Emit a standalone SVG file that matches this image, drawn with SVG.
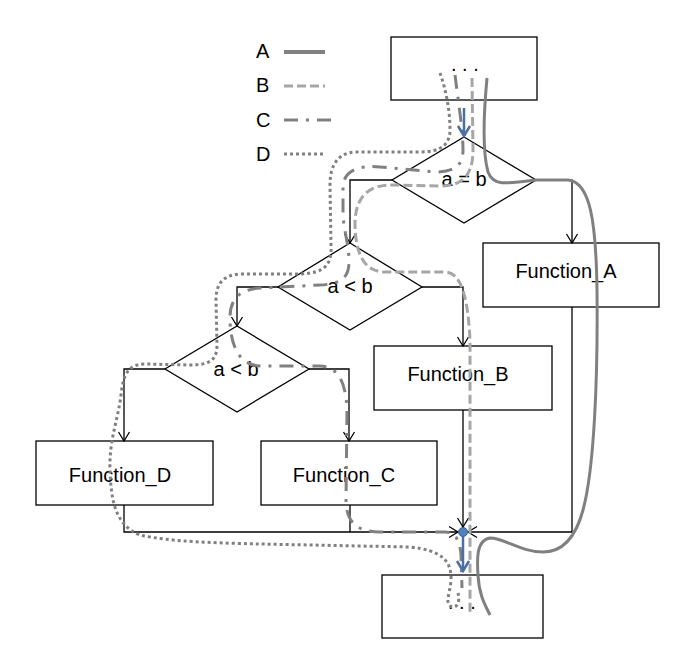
<svg xmlns="http://www.w3.org/2000/svg" width="693" height="671" viewBox="0 0 693 671">
<defs>
<style>
.box{fill:#fff;stroke:#000;stroke-width:1.3}
.dia{fill:#fff;stroke:#000;stroke-width:1.3}
.con{fill:none;stroke:#000;stroke-width:1.3}
.t{font-family:"Liberation Sans",Arial,sans-serif;font-size:20px;fill:#000}
.pa{fill:none;stroke:#808080;stroke-width:3}
.pb{fill:none;stroke:#a6a6a6;stroke-width:3;stroke-dasharray:9,4}
.pc{fill:none;stroke:#808080;stroke-width:3;stroke-dasharray:14,8,3,8}
.pd{fill:none;stroke:#808080;stroke-width:3;stroke-dasharray:3,3}
.blue{fill:none;stroke:#4a6fa5;stroke-width:2.5}
</style>
<marker id="arr" viewBox="-10 -7 12 14" refX="0" refY="0" markerWidth="12" markerHeight="14" orient="auto" markerUnits="userSpaceOnUse">
<path d="M-9,-5.5 L0,0 L-9,5.5" fill="none" stroke="#000" stroke-width="1.3"/>
</marker>
<marker id="barr" viewBox="-12 -8 14 16" refX="0" refY="0" markerWidth="14" markerHeight="16" orient="auto" markerUnits="userSpaceOnUse">
<path d="M-10,-6 L0,0 L-10,6" fill="none" stroke="#4a6fa5" stroke-width="2.5"/>
</marker>
</defs>
<rect width="693" height="671" fill="#fff"/>

<g id="legend">
<text class="t" x="256" y="58">A</text>
<line x1="284" y1="52" x2="325" y2="52" class="pa" style="stroke-width:4"/>
<text class="t" x="256" y="92">B</text>
<line x1="284" y1="86" x2="325" y2="86" class="pb"/>
<text class="t" x="256" y="127">C</text>
<line x1="284" y1="120" x2="334" y2="120" class="pc"/>
<text class="t" x="256" y="161">D</text>
<line x1="284" y1="154" x2="325" y2="154" class="pd"/>
</g>

<g id="start"><rect class="box" x="391" y="37" width="146" height="63"/><text class="t" x="451" y="71">. . .</text></g>
<g id="cond1"><polygon class="dia" points="464,137 536,180 464,223 392,180"/><text class="t" x="464" y="186" text-anchor="middle">a = b</text></g>
<g id="cond2"><polygon class="dia" points="350,243 422,287 350,330 278,287"/><text class="t" x="350" y="293" text-anchor="middle">a &lt; b</text></g>
<g id="cond3"><polygon class="dia" points="237,326 309,369 237,412 165,369"/><text class="t" x="236" y="376" text-anchor="middle">a &lt; b</text></g>
<g id="funcA"><rect class="box" x="483" y="243" width="176" height="64"/><text class="t" x="566" y="278" text-anchor="middle">Function_A</text></g>
<g id="funcB"><rect class="box" x="374" y="346" width="178" height="64"/><text class="t" x="458" y="381" text-anchor="middle">Function_B</text></g>
<g id="funcC"><rect class="box" x="261" y="441" width="176" height="64"/><text class="t" x="344" y="482" text-anchor="middle">Function_C</text></g>
<g id="funcD"><rect class="box" x="36" y="441" width="177" height="64"/><text class="t" x="120" y="482" text-anchor="middle">Function_D</text></g>
<g id="end"><rect class="box" x="382" y="575" width="161" height="63"/><text class="t" x="448" y="609">. . .</text></g>

<g id="connectors">
<path class="con" d="M392,180 L350,180 L350,243" marker-end="url(#arr)"/>
<path class="con" d="M536,180 L572,180 L572,243" marker-end="url(#arr)"/>
<path class="con" d="M278,287 L237,287 L237,326" marker-end="url(#arr)"/>
<path class="con" d="M422,287 L463,287 L463,346" marker-end="url(#arr)"/>
<path class="con" d="M165,369 L124,369 L124,441" marker-end="url(#arr)"/>
<path class="con" d="M309,369 L349,369 L349,441" marker-end="url(#arr)"/>
<path class="con" d="M124,505 L124,532 L458,532" marker-end="url(#arr)"/>
<path class="con" d="M350,505 L350,532"/>
<path class="con" d="M463,410 L463,527" marker-end="url(#arr)"/>
<path class="con" d="M572,307 L572,532 L468,532" marker-end="url(#arr)"/>
</g>

<g id="paths">
<path class="pa" d="M487,78 C484,110 482,150 488,172 C493,186 505,184 536,180 L568,180 C590,182 596,220 597,290 C598,380 594,470 583,510 C575,540 560,552 543,552 C520,552 505,538 490,538 C476,540 477,560 478,575 C479,595 485,605 490,615"/>
<path class="pb" d="M472,78 L473,150 C473,178 460,186 440,186 L395,185 C370,184 356,195 355,222 C355,250 362,272 385,272 L445,272 C462,272 468,300 470,340 L470,613"/>
<path class="pc" d="M455,75 C458,100 463,130 463,150 C463,165 455,172 435,172 L380,167 C360,165 345,170 343,185 L343,215 C344,232 349,245 349,262 C349,276 343,284 320,285 L260,288 C238,290 230,300 230,318 C230,340 236,365 260,366 L320,366 C340,367 346,385 347,410 L346,500 C346,520 355,532 380,532 L445,532 C455,532 460,540 461,555 L462,588"/>
<path class="pd" d="M440,73 C446,90 450,110 450,130 C450,145 440,152 420,152 L355,152 C338,153 330,165 330,185 L331,245 C332,265 325,273 300,274 L240,274 C222,275 216,285 216,300 L217,345 C217,360 210,365 190,365 L145,364 C128,364 123,375 121,395 C118,420 109,440 110,470 C111,500 115,525 140,535 C170,542 220,543 260,544 L410,547 C440,550 452,560 451,580 C450,595 444,603 452,607 C458,608 460,600 458,593"/>
</g>

<g id="flow">
<path class="blue" d="M464,108 L464,136" marker-end="url(#barr)"/>
<circle cx="463" cy="532" r="4.5" fill="#4f81bd" stroke="#385d8a" stroke-width="1"/>
<path class="blue" d="M463,537 L463,571" marker-end="url(#barr)"/>
</g>
</svg>
